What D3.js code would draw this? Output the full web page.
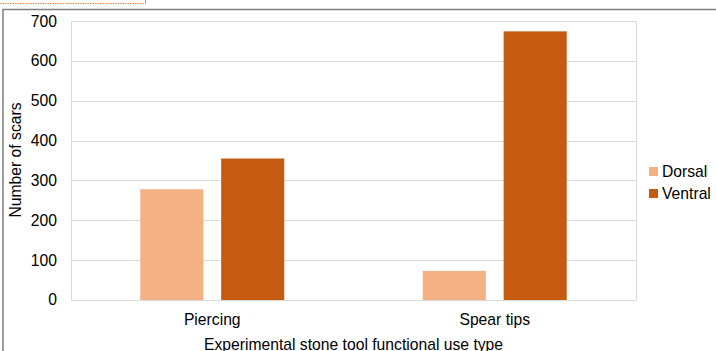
<!DOCTYPE html>
<html>
<head>
<meta charset="utf-8">
<script src="https://cdn.jsdelivr.net/npm/d3@7"></script>
<style>
  body { margin: 0; background: #fff; }
  text { font-family: "Liberation Sans", Arial, sans-serif; fill: #000; }
</style>
</head>
<body>
<svg width="716" height="351"></svg>
<script>
var categories = ['Piercing', 'Spear tips'];
var seriesNames = ['Dorsal', 'Ventral'];
var dorsal = [278, 73];
var ventral = [355, 674];
var yTicks = [0, 100, 200, 300, 400, 500, 600, 700];
var colors = ['#F4B183', '#C55A11'];

var svg = d3.select('svg');
var margin = {left: 71, right: 80, top: 21, bottom: 51};
var width = 716 - margin.left - margin.right;
var height = 351 - margin.top - margin.bottom;
var fs = '15.7px';

// outer frame bits
svg.append('line')
  .attr('x1', 0).attr('x2', 145).attr('y1', 3.5).attr('y2', 3.5)
  .attr('stroke', '#E8823E').attr('stroke-width', 1.2).attr('stroke-dasharray', '1.5,1');
svg.append('line')
  .attr('x1', 145.5).attr('x2', 145.5).attr('y1', 0).attr('y2', 4)
  .attr('stroke', '#E8823E');
svg.append('path')
  .attr('d', 'M3,351V9.5H716')
  .attr('fill', 'none').attr('stroke', '#7f7f7f').attr('stroke-width', 1.5);

var g = svg.append('g').attr('transform', 'translate(' + margin.left + ',' + margin.top + ')');

var x0 = d3.scaleBand().domain(categories).range([0, width]);
var x1 = d3.scaleBand().domain(seriesNames).range([0, 144]).paddingInner(0.22);
var y = d3.scaleLinear().domain([0, 700]).range([height, 0]);

// gridlines
g.selectAll('line.grid')
  .data(yTicks)
  .enter()
  .append('line')
    .attr('class', 'grid')
    .attr('x1', 0).attr('x2', width)
    .attr('y1', d => Math.round(y(d)) + 0.5)
    .attr('y2', d => Math.round(y(d)) + 0.5)
    .attr('stroke', '#d9d9d9');
g.append('line')
  .attr('x1', width + 0.5).attr('x2', width + 0.5)
  .attr('y1', 0).attr('y2', height)
  .attr('stroke', '#d9d9d9');
g.append('line')
  .attr('x1', 0.5).attr('x2', 0.5)
  .attr('y1', 0).attr('y2', height)
  .attr('stroke', '#d9d9d9');

// y tick labels
g.selectAll('text.ytick')
  .data(yTicks)
  .enter()
  .append('text')
    .attr('class', 'ytick')
    .attr('x', -14)
    .attr('y', d => y(d))
    .attr('dy', '0.35em')
    .attr('text-anchor', 'end')
    .style('font-size', fs)
    .text(d => d);

var rows = categories.map((c, i) => ({cat: c, values: [dorsal[i], ventral[i]]}));

var groups = g.selectAll('g.cat')
  .data(rows)
  .enter()
  .append('g')
    .attr('class', 'cat')
    .attr('transform', d => 'translate(' + (x0(d.cat) + x0.bandwidth() / 2 - 72) + ',0)');

groups.selectAll('rect')
  .data(d => d.values.map((v, i) => ({name: seriesNames[i], value: v, color: colors[i]})))
  .enter()
  .append('rect')
    .attr('x', d => x1(d.name))
    .attr('width', x1.bandwidth())
    .attr('y', d => y(d.value))
    .attr('height', d => height - y(d.value))
    .style('fill', d => d.color);

// category labels
g.selectAll('text.xtick')
  .data(categories)
  .enter()
  .append('text')
    .attr('class', 'xtick')
    .attr('x', d => x0(d) + x0.bandwidth() / 2)
    .attr('y', height + 25)
    .attr('text-anchor', 'middle')
    .style('font-size', fs)
    .text(d => d);

// axis titles
svg.append('text')
  .attr('x', margin.left + width / 2)
  .attr('y', 350)
  .attr('text-anchor', 'middle')
  .style('font-size', fs)
  .text('Experimental stone tool functional use type');

svg.append('text')
  .attr('transform', 'translate(21,160) rotate(-90)')
  .attr('text-anchor', 'middle')
  .style('font-size', fs)
  .text('Number of scars');

// legend
var legend = svg.selectAll('g.legend')
  .data(seriesNames)
  .enter()
  .append('g')
    .attr('class', 'legend')
    .attr('transform', (d, i) => 'translate(649,' + (167 + i * 22) + ')');
legend.append('rect')
  .attr('width', 9).attr('height', 9)
  .style('fill', (d, i) => colors[i]);
legend.append('text')
  .attr('x', 13).attr('y', 4.5).attr('dy', '0.35em')
  .style('font-size', fs)
  .text(d => d);
</script>
</body>
</html>
